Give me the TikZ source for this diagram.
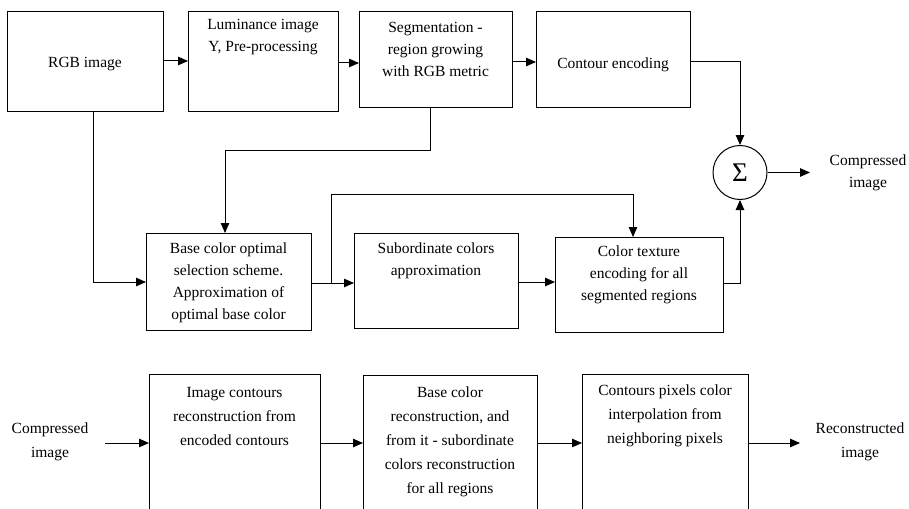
\documentclass[tikz,border=0pt]{standalone}
\usepackage{fontspec}
\setmainfont{Liberation Serif}
\usetikzlibrary{arrows.meta}
\begin{document}
\begin{tikzpicture}[x=1pt,y=-1pt,
  box/.style={draw, line width=1pt, anchor=north west, inner sep=0pt},
  txt/.style={align=center, inner sep=0pt, font=\fontsize{15.5}{22}\selectfont},
  txtb/.style={align=center, inner sep=0pt, font=\fontsize{15.5}{24}\selectfont},
  arr/.style={line width=1pt, -{Triangle[length=10pt,width=8.5pt]}}]
\clip (0,0) rectangle (909,508);
% top row
\node[box, minimum width=156pt, minimum height=100pt] (rgb) at (7,11) {};
\node[box, minimum width=150pt, minimum height=100pt] (lum) at (188,11) {};
\node[box, minimum width=153pt, minimum height=96pt] (seg) at (359,11) {};
\node[box, minimum width=154pt, minimum height=96pt] (cont) at (536,11) {};
\node[txt] (rgbt) at (85,64) {RGB image};
\node[txt] (lumt) at (263,37.5) {Luminance image\\Y, Pre-processing};
\node[txt] (segt) at (435.5,49) {Segmentation -\\region growing\\with RGB metric};
\node[txt] (contt) at (613,65) {Contour encoding};
% sigma
\node[draw, circle, line width=1pt, minimum size=54pt, inner sep=0pt, font=\fontsize{27}{27}\selectfont] (sig) at (740,172.5) {Σ};
\coordinate (cout) at (810,172.5);
\node[txt] (compt) at (868,172.5) {Compressed\\image};
% middle row
\node[box, minimum width=165pt, minimum height=97pt] (base) at (146,233) {};
\node[box, minimum width=164pt, minimum height=95pt] (sub) at (354,233) {};
\node[box, minimum width=168pt, minimum height=95pt] (tex) at (555,237) {};
\node[txt] (baset) at (228.5,283) {Base color optimal\\selection scheme.\\Approximation of\\optimal base color};
\node[txt] (subt) at (436,261) {Subordinate colors\\approximation};
\node[txt] (text) at (639,275) {Color texture\\encoding for all\\segmented regions};
% bottom row
\node[box, minimum width=171pt, minimum height=150pt] (b8) at (149,374) {};
\node[box, minimum width=174pt, minimum height=150pt] (b9) at (363,375) {};
\node[box, minimum width=166pt, minimum height=150pt] (b10) at (582,374) {};
\node[txtb] (cin) at (50,441.5) {Compressed\\image};
\coordinate (cinr) at (105,443);
\node[txtb] (b8t) at (234.5,416) {Image contours\\reconstruction from\\encoded contours};
\node[txtb] (b9t) at (450,442) {Base color\\reconstruction, and\\from it - subordinate\\colors reconstruction\\for all regions};
\node[txtb] (b10t) at (665,416) {Contours pixels color\\interpolation from\\neighboring pixels};
\coordinate (rout) at (800,443);
\node[txtb] (rec) at (860,441.5) {Reconstructed\\image};
% connectors top
\draw[arr] (rgb.east |- {(0,61)}) -- (lum.west |- {(0,61)});
\draw[arr] (lum.east |- {(0,63)}) -- (seg.west |- {(0,63)});
\draw[arr] (seg.east |- {(0,62)}) -- (cont.west |- {(0,62)});
\draw[arr] (cont.east |- {(0,62)}) -| (sig.north);
\draw[arr] (sig.east) -- (cout);
% connectors to middle
\draw[arr] (rgb.south -| {(93,0)}) |- (base.west |- {(0,282)});
\draw[arr] (seg.south -| {(430,0)}) -- ++(0,42) -| (base.north -| {(225,0)});
\draw[arr] (base.east |- {(0,283)}) -- (sub.west |- {(0,283)});
\coordinate (br) at (331,283);
\coordinate (brt) at (633,194);
\draw[arr] (br) |- (brt) -- (tex.north -| brt);
\draw[arr] (sub.east |- {(0,282)}) -- (tex.west |- {(0,282)});
\draw[arr] (tex.east |- {(0,283)}) -| (sig.south);
% bottom connectors
\draw[arr] (cinr) -- (b8.west |- cinr);
\draw[arr] (b8.east |- cinr) -- (b9.west |- cinr);
\draw[arr] (b9.east |- cinr) -- (b10.west |- cinr);
\draw[arr] (b10.east |- cinr) -- (rout);
\end{tikzpicture}
\end{document}
